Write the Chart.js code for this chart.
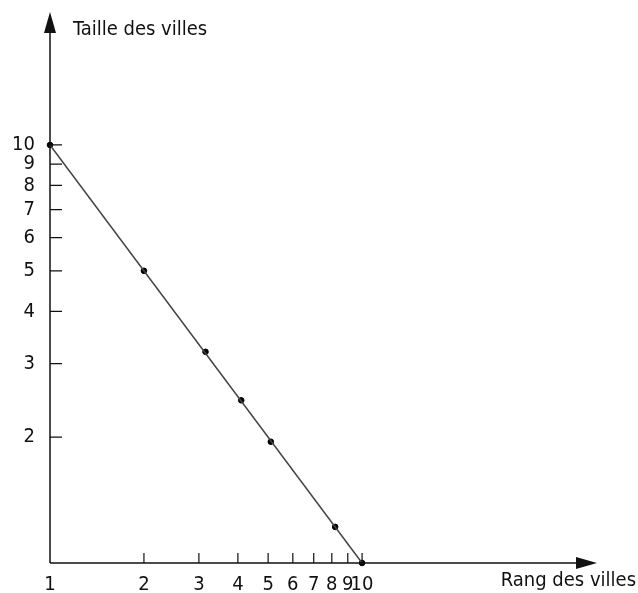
<!DOCTYPE html>
<html>
<head>
<meta charset="utf-8">
<script src="https://cdn.jsdelivr.net/npm/chart.js@4.4.0/dist/chart.umd.min.js"></script>
<style>
  html, body { margin: 0; padding: 0; background: #fff; }
  #wrap { width: 638px; height: 593px; }
</style>
</head>
<body>
<div id="wrap"><canvas id="chart"></canvas></div>
<script>
// Rank-size rule: city size vs city rank, log-log axes
const rankTicks = [1, 2, 3, 4, 5, 6, 7, 8, 9, 10];
const sizeTicks = [2, 3, 4, 5, 6, 7, 8, 9, 10];
const cityRanks = [1, 2, 3.15, 4.1, 5.1, 8.2, 10];
const citySizes = [10, 5, 3.2, 2.45, 1.95, 1.22, 1];
const lineRanks = [1, 10];
const lineSizes = [10, 1];
const xTitle = "Rang des villes";
const yTitle = "Taille des villes";

const FONT = "'Liberation Sans Narrow', 'DejaVu Sans Condensed', Arial, sans-serif";
const INK = "#111";

// axis lines with arrows, inner tick marks and the two axis titles
const axesPlugin = {
  id: "axes",
  afterDraw(chart) {
    const { ctx, chartArea: a, scales } = chart;
    const x = scales.x, y = scales.y;
    ctx.save();
    ctx.strokeStyle = INK;
    ctx.fillStyle = INK;
    ctx.lineWidth = 1.5;

    ctx.beginPath();
    ctx.moveTo(a.left, a.bottom);
    ctx.lineTo(a.left, a.top + 10);
    ctx.moveTo(a.left, a.bottom);
    ctx.lineTo(a.right - 10, a.bottom);
    ctx.stroke();

    // arrow heads
    ctx.beginPath();
    ctx.moveTo(a.left, a.top);
    ctx.lineTo(a.left - 6, a.top + 21);
    ctx.lineTo(a.left + 6, a.top + 21);
    ctx.closePath();
    ctx.fill();
    ctx.beginPath();
    ctx.moveTo(a.right, a.bottom);
    ctx.lineTo(a.right - 21, a.bottom - 6);
    ctx.lineTo(a.right - 21, a.bottom + 6);
    ctx.closePath();
    ctx.fill();

    ctx.lineWidth = 1.2;
    ctx.beginPath();
    sizeTicks.forEach((v) => {
      const py = y.getPixelForValue(v);
      ctx.moveTo(a.left, py);
      ctx.lineTo(a.left + 12, py);
    });
    rankTicks.slice(1).forEach((v) => {
      const px = x.getPixelForValue(v);
      ctx.moveTo(px, a.bottom);
      ctx.lineTo(px, a.bottom - 10);
    });
    ctx.stroke();

    ctx.font = "20px " + FONT;
    ctx.textBaseline = "middle";
    ctx.textAlign = "left";
    ctx.fillText(yTitle, 73, 30);
    ctx.textAlign = "right";
    ctx.fillText(xTitle, 636, 581);
    ctx.restore();
  },
};

new Chart(document.getElementById("chart"), {
  type: "scatter",
  data: {
    datasets: [
      {
        type: "line",
        data: lineRanks.map((r, i) => ({ x: r, y: lineSizes[i] })),
        borderColor: "#444",
        borderWidth: 1.5,
        pointRadius: 0,
        clip: false,
      },
      {
        data: cityRanks.map((r, i) => ({ x: r, y: citySizes[i] })),
        backgroundColor: "#000",
        borderColor: "#000",
        pointRadius: 2.8,
        pointHoverRadius: 2.8,
        clip: false,
      },
    ],
  },
  plugins: [axesPlugin],
  options: {
    responsive: true,
    maintainAspectRatio: false,
    animation: false,
    layout: { padding: { top: 12, right: 41, left: 0, bottom: 0 } },
    plugins: { legend: { display: false }, tooltip: { enabled: false } },
    scales: {
      x: {
        type: "logarithmic",
        min: 1,
        max: 56.6,
        grid: { display: false, drawTicks: false },
        border: { display: false },
        afterBuildTicks: (s) => { s.ticks = rankTicks.map((v) => ({ value: v })); },
        afterFit: (s) => { s.height = 30; s.paddingLeft = 0; s.paddingRight = 0; },
        ticks: {
          autoSkip: false,
          maxRotation: 0,
          padding: 10,
          color: INK,
          font: { family: FONT, size: 20 },
          callback: (v) => String(v),
        },
      },
      y: {
        type: "logarithmic",
        min: 1,
        max: 20.8,
        grid: { display: false, drawTicks: false },
        border: { display: false },
        afterBuildTicks: (s) => { s.ticks = sizeTicks.map((v) => ({ value: v })); },
        afterFit: (s) => { s.width = 50; s.paddingTop = 0; s.paddingBottom = 0; },
        ticks: {
          autoSkip: false,
          padding: 15,
          color: INK,
          font: { family: FONT, size: 20 },
          callback: (v) => String(v),
        },
      },
    },
  },
});
</script>
</body>
</html>
